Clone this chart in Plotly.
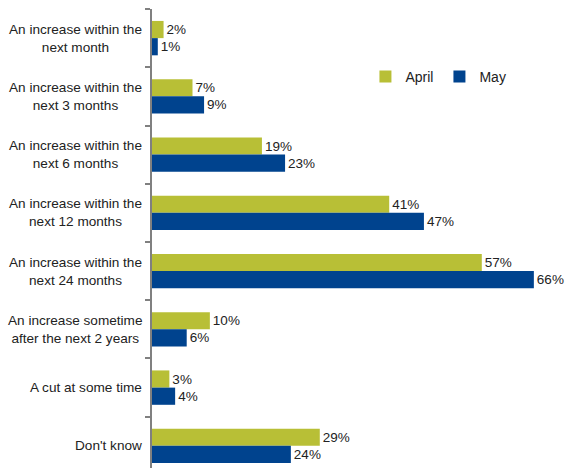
import plotly.graph_objects as go

categories = [
    "An increase within the<br>next month",
    "An increase within the<br>next 3 months",
    "An increase within the<br>next 6 months",
    "An increase within the<br>next 12 months",
    "An increase within the<br>next 24 months",
    "An increase sometime<br>after the next 2 years",
    "A cut at some time",
    "Don't know",
]
april = [2, 7, 19, 41, 57, 10, 3, 29]
may = [1, 9, 23, 47, 66, 6, 4, 24]

APRIL_COLOR = "#b8bf36"
MAY_COLOR = "#00438e"
FONT = "Liberation Sans, Arial, sans-serif"

fig = go.Figure()
fig.add_trace(go.Bar(
    y=list(range(len(categories))), x=april, orientation="h", name="April",
    marker=dict(color=APRIL_COLOR, line=dict(width=0)),
    text=[f"{v}%" for v in april], textposition="outside",
    textfont=dict(size=13.5, color="#222222", family=FONT), cliponaxis=False,
))
fig.add_trace(go.Bar(
    y=list(range(len(categories))), x=may, orientation="h", name="May",
    marker=dict(color=MAY_COLOR, line=dict(width=0)),
    text=[f"{v}%" for v in may], textposition="outside",
    textfont=dict(size=13.5, color="#222222", family=FONT), cliponaxis=False,
))

for i, c in enumerate(categories):
    fig.add_annotation(
        x=0, xref="paper", y=i, yref="y", text=c, showarrow=False,
        xanchor="right", yanchor="middle", align="center", xshift=-8,
        font=dict(size=13.6, color="#222222", family=FONT),
    )

fig.update_layout(
    width=566, height=468,
    margin=dict(l=152, r=9, t=9, b=0),
    paper_bgcolor="white", plot_bgcolor="white",
    barmode="group", bargap=0.41, bargroupgap=0,
    font=dict(family=FONT, size=13, color="#222222"),
    showlegend=True,
    legend=dict(orientation="h", x=0.527, y=0.852, xanchor="left", yanchor="middle",
                font=dict(size=14, family=FONT, color="#222222"),
                traceorder="normal", entrywidth=29, entrywidthmode="pixels",
                itemwidth=30, bgcolor="rgba(0,0,0,0)"),
    xaxis=dict(range=[0, 70], showgrid=False, zeroline=False, showticklabels=False,
               showline=False, ticks=""),
    yaxis=dict(range=[7.38, -0.5], showgrid=False, zeroline=False,
               showticklabels=False, showline=True, linecolor="#808080", linewidth=1.5,
               ticks="outside", ticklen=5, tickcolor="#808080", tickwidth=1.5,
               tickvals=[i + 0.5 for i in range(-1, len(categories))]),
)

fig.write_html("out.html")
